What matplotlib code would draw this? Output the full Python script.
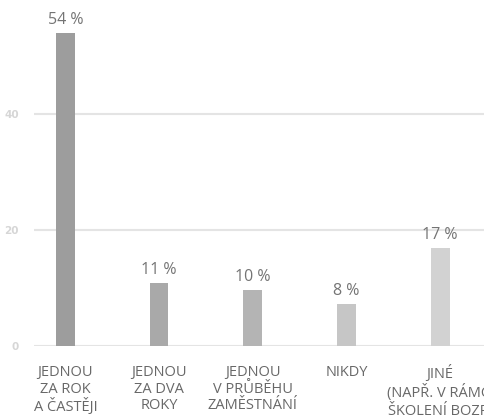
import numpy as np
import matplotlib.pyplot as plt

kategorie = ["JEDNOU\nZA ROK\nA ČASTĚJI", "JEDNOU\nZA DVA\nROKY", "JEDNOU\nV PRŮBĚHU\nZAMĚSTNÁNÍ",
             "NIKDY", "JINÉ\n(NAPŘ. V RÁMCI\nŠKOLENÍ BOZP)"]
hodnoty = [54.1, 10.9, 9.7, 7.3, 16.9]
popisky = ["54 %", "11 %", "10 %", "8 %", "17 %"]
barvy = ["#9d9d9d", "#a9a9a9", "#b4b4b4", "#c6c6c6", "#d2d2d2"]

plt.rcParams['font.family'] = ['Open Sans', 'DejaVu Sans']

fig = plt.figure(figsize=(4.84, 4.17), dpi=100)
ax = fig.add_axes([34/484, 71/417, 1 - 34/484, 58*0.01389])

x = np.arange(len(hodnoty))
ax.bar(x, hodnoty, width=0.2, color=barvy, zorder=3)

for xi, h, p in zip(x, hodnoty, popisky):
    ax.annotate(p, (xi, h), xytext=(0, 6.5), textcoords="offset points",
                ha="center", va="baseline", fontsize=11.5, color="#747474")

ax.set_xlim(-0.335, 4.468)
ax.set_ylim(0, 58)
ax.set_yticks([0, 20, 40])
ax.set_xticks(x)
ax.set_xticklabels(kategorie, fontsize=10.5, color="#686868", linespacing=1.1)
ax.tick_params(axis="x", length=0, pad=14)
ax.tick_params(axis="y", length=0, pad=11)
for t in ax.get_yticklabels():
    t.set_family("DejaVu Sans")
    t.set_fontweight("bold")
    t.set_fontsize(7.5)
    t.set_color("#d6d6d6")

ax.grid(axis="y", color="#e4e4e4", linewidth=1.5, zorder=0)
for s in ax.spines.values():
    s.set_visible(False)

fig.savefig("out.png", dpi=100)
